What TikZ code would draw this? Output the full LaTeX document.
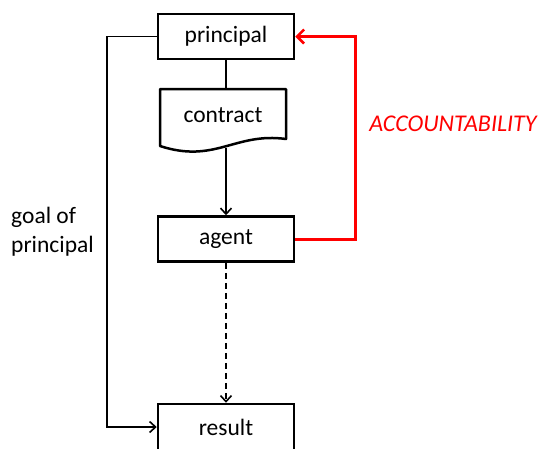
\documentclass[tikz,border=0pt]{standalone}
\usepackage{fontspec}
\setmainfont{Carlito}
\usetikzlibrary{arrows.meta}
\begin{document}
\begin{tikzpicture}[x=1pt,y=-1pt,
  lbl/.style={font=\fontsize{23.5}{28}\selectfont},
  box/.style={draw=black,line width=2.5pt,minimum width=136pt,minimum height=45pt,inner sep=0pt,lbl},
  conn/.style={draw=black,line width=1.8pt},
  tip/.style={-{Straight Barb[length=6pt,width=11pt,line width=1.6pt]}},
  redconn/.style={draw=red,line width=3pt,-{Straight Barb[length=7pt,width=14pt,line width=2.5pt]}}]
\useasboundingbox (0,0) rectangle (538,448);
\begin{scope}
\clip (0,0) rectangle (538,448);
% boxes
\node[box] (principal) at (226,36.5) {principal};
\node[box] (agent) at (226,239) {agent};
\node[box,minimum height=50pt] (result) at (226,429) {};
\node[lbl] (resultlabel) at (226,427) {result};
% contract document
\node[minimum width=126pt,minimum height=50pt,inner sep=0pt,lbl] (contract) at (223,115) {contract};
\draw[line width=2.5pt,line join=round] (160,89) -- (286,89) -- (286,139)
  .. controls (235,132) and (215,164) .. (160,146) -- cycle;
\coordinate (ctop) at (226,89);
\coordinate (cbot) at (226,148);
% connectors
\draw[conn] (principal.south) -- (ctop);
\draw[conn,tip] (cbot) -- (agent.north);
\draw[conn,tip,dash pattern=on 6pt off 4pt] (agent.south) -- (result.north);
\coordinate (lefttop) at (107,36.5);
\coordinate (leftbot) at (107,427);
\draw[conn,tip] (principal.west) -- (lefttop) -- (leftbot) -- (result.west |- leftbot);
\coordinate (rtop) at (355,36.5);
\coordinate (rbot) at (355,239);
\draw[redconn] (agent.east) -- (rbot) -- (rtop) -- (principal.east);
\end{scope}
% labels
\node[anchor=center,text=red,font=\fontsize{24}{28}\selectfont\itshape] (acc) at (453,124) {ACCOUNTABILITY};
\node[anchor=north west,align=left,inner sep=0pt,font=\fontsize{23.5}{29}\selectfont] (goal) at (11,207) {goal of\\principal};
\end{tikzpicture}
\end{document}
